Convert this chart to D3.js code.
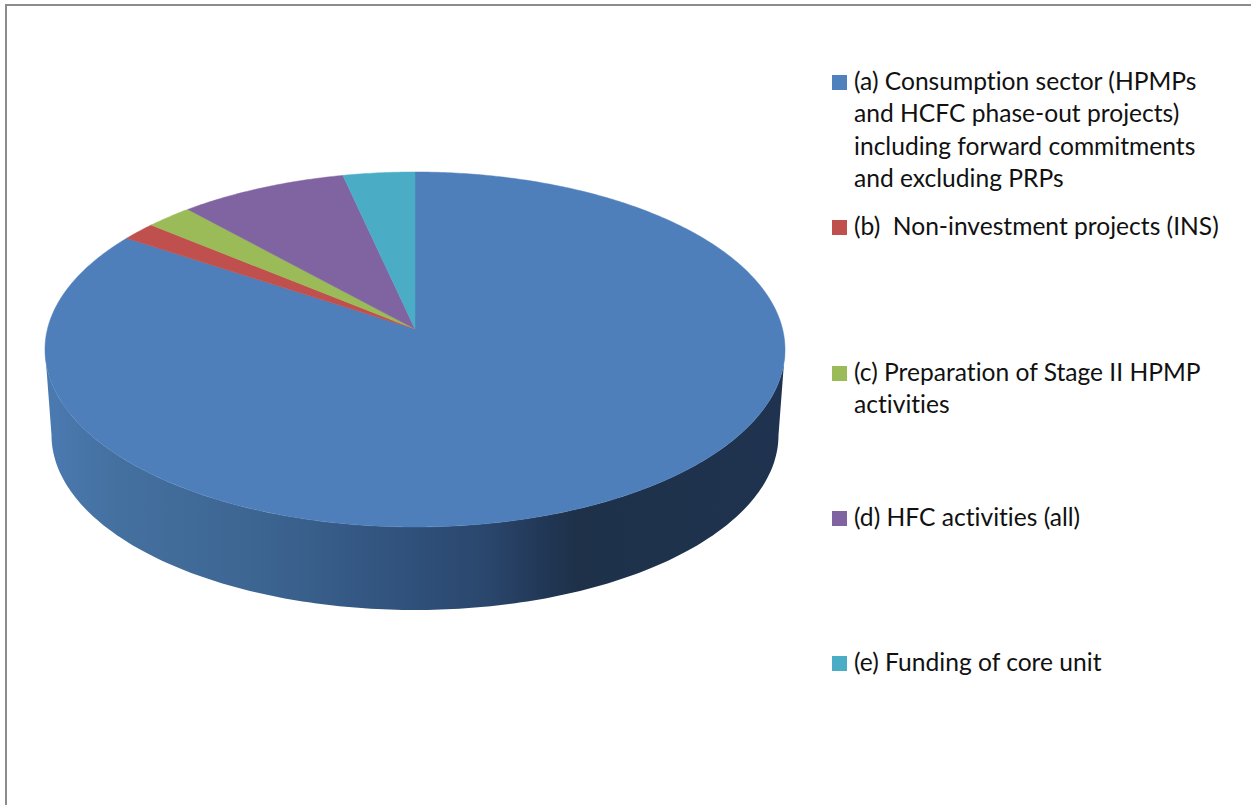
<!DOCTYPE html>
<html>
<head>
<meta charset="utf-8">
<title>Pie chart</title>
<script src="https://cdnjs.cloudflare.com/ajax/libs/d3/7.8.5/d3.min.js"></script>
<style>
	html, body { margin: 0; padding: 0; background: #fff; }
	svg { display: block; }
	.legend text { font-family: Lato, "Open Sans", sans-serif; font-size: 24.6px; fill: #111; white-space: pre; font-variant-ligatures: none; }
</style>
</head>
<body>
<svg width="1251" height="805"></svg>
<script>
	var categories = ["a", "b", "c", "d", "e"],
		shares = [84.3, 1.7, 2.3, 8.2, 3.5],
		colors = ["#4f7fba", "#c0504d", "#9bbb59", "#8064a2", "#4bacc6"],
		legendLines = [
			["(a) Consumption sector (HPMPs", "and HCFC phase-out projects)", "including forward commitments", "and excluding PRPs"],
			["(b)  Non-investment projects (INS)"],
			["(c) Preparation of Stage II HPMP", "activities"],
			["(d) HFC activities (all)"],
			["(e) Funding of core unit"]
		],
		legendBaselines = [90, 235, 381, 526, 671];

	var cx = 415,
		cy = 349.5,
		rx = 370,
		ry = 177.5,
		apexShift = 0.115, // the pie centre sits above the ellipse centre (perspective)
		bottomRx = 363.5,
		bottomRy = 175,
		bottomCy = 435,
		lineHeight = 32.3;

	var svg = d3.select("svg");
	var color = d3.scaleOrdinal().domain(categories).range(colors);

	// frame, only top and left are there
	svg.append("path")
		.attr("d", "M6,805V5H1251")
		.attr("fill", "none")
		.attr("stroke", "#8c8c8c")
		.attr("stroke-width", 2);

	var defs = svg.append("defs");
	var wallGradient = defs.append("linearGradient")
		.attr("id", "wall")
		.attr("gradientUnits", "userSpaceOnUse")
		.attr("x1", 45).attr("x2", 785).attr("y1", 0).attr("y2", 0);
	[[0, "#4b7ab2"], [0.1, "#44709f"], [0.3, "#3c6491"], [0.5, "#2f507a"], [0.6, "#2a466c"], [0.68, "#213654"], [0.72, "#1e3149"], [1, "#1f3350"]]
		.forEach(function(s) {
			wallGradient.append("stop").attr("offset", s[0]).attr("stop-color", s[1]);
		});

	// rim point for a pie angle, clockwise from the top
	function rim(a) {
		var u = Math.sin(a),
			v = Math.cos(a),
			d = 1 + apexShift * v;
		return [
			cx + rx * u * Math.sqrt(1 - apexShift * apexShift) / d,
			cy - ry * (v + apexShift) / d
		];
	}

	var line = d3.line();

	// side wall, between the front half of the top and bottom ellipses
	var frontAngles = d3.range(0, 181).map(function(d) { return d * Math.PI / 180; });
	var wallPoints = frontAngles.map(function(a) {
		return [cx + rx * Math.cos(a), cy + ry * Math.sin(a)];
	}).concat(frontAngles.slice().reverse().map(function(a) {
		return [cx + bottomRx * Math.cos(a), bottomCy + bottomRy * Math.sin(a)];
	}));
	svg.append("path")
		.attr("d", line(wallPoints) + "Z")
		.attr("fill", "url(#wall)");

	var pie = d3.pie().sort(null);
	var apex = [cx, cy - ry * apexShift];

	svg.append("g").selectAll("path")
		.data(pie(shares))
		.enter()
		.append("path")
		.attr("fill", function(d, i) { return color(categories[i]); })
		.attr("stroke", function(d, i) { return color(categories[i]); })
		.attr("stroke-width", 0.5)
		.attr("d", function(d) {
			var n = Math.ceil((d.endAngle - d.startAngle) / 0.01),
				pts = d3.range(n + 1).map(function(i) {
					return rim(d.startAngle + (d.endAngle - d.startAngle) * i / n);
				});
			return line([apex].concat(pts)) + "Z";
		});

	var legend = svg.append("g").attr("class", "legend")
		.selectAll("g")
		.data(categories)
		.enter()
		.append("g");

	legend.append("rect")
		.attr("x", 832)
		.attr("y", function(d, i) { return legendBaselines[i] - 15; })
		.attr("width", 15)
		.attr("height", 15)
		.attr("fill", function(d) { return d === "a" ? "#4f81bd" : color(d); });

	legend.each(function(d, i) {
		d3.select(this).selectAll("text")
			.data(legendLines[i])
			.enter()
			.append("text")
			.attr("x", 854)
			.attr("y", function(t, j) { return legendBaselines[i] + j * lineHeight; })
			.text(function(t) { return t; });
	});
</script>
</body>
</html>
